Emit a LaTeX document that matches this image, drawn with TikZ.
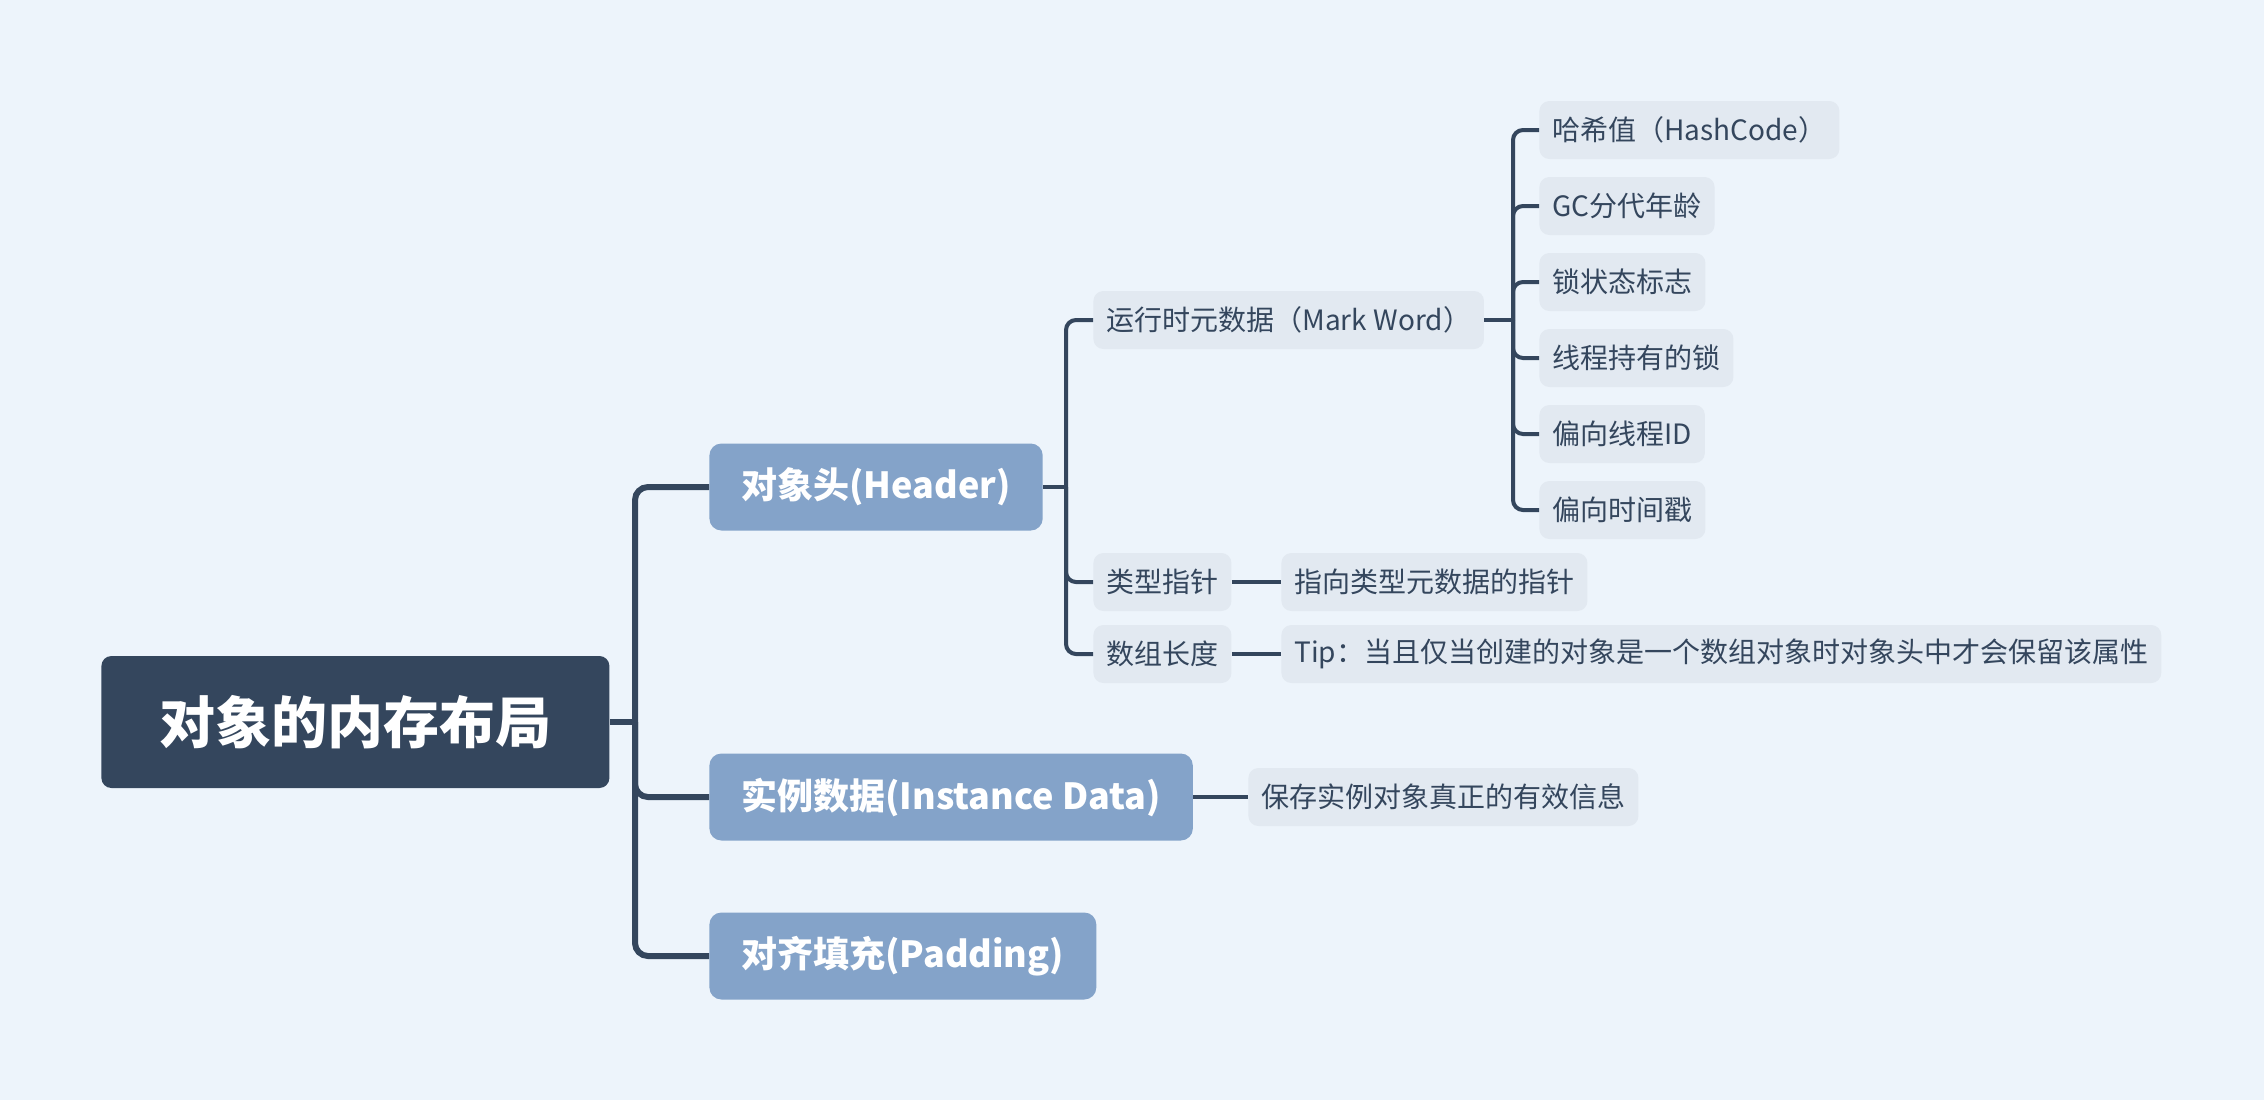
\documentclass[tikz,border=0pt]{standalone}
\usepackage{fontspec}
\setmainfont{Noto Sans CJK SC}
\usetikzlibrary{
  positioning,  % Function "of"
  calc,         % Calculations $...$
}
\definecolor{bgcol}{HTML}{EDF4FB}
\definecolor{rootcol}{HTML}{34465D}
\definecolor{topiccol}{HTML}{84A3C9}
\definecolor{leafcol}{HTML}{E2E9F1}
\def\myrootfont{\fontsize{28}{34}\selectfont\bfseries}
\def\mytopicfont{\fontsize{18}{22}\selectfont\bfseries}
\def\myleaffont{\fontsize{14}{17}\selectfont}
\tikzset{
  x=0.5pt,
  y=-0.5pt,
  my root/.style={
    fill=rootcol,
    text=white,
    font=\myrootfont,
    minimum height=66pt,
    inner xsep=29pt,
    rounded corners=5pt,
    anchor=west
  },
  my topic/.style={
    fill=topiccol,
    text=white,
    font=\mytopicfont,
    minimum height=43.5pt,
    inner xsep=16pt,
    rounded corners=6pt,
    anchor=west
  },
  my leaf/.style={
    fill=leafcol,
    text=rootcol,
    font=\myleaffont,
    minimum height=29pt,
    inner xsep=6.5pt,
    rounded corners=5pt,
    anchor=west
  },
  thick link/.style={
    draw=rootcol,
    line width=3pt,
    rounded corners=6.5pt
  },
  thin link/.style={
    draw=rootcol,
    line width=2pt,
    rounded corners=5pt
  }
}

\begin{document}
\begin{tikzpicture}
\fill[bgcol] (0,0) rectangle (2264,1100);
\useasboundingbox (0,0) rectangle (2264,1100);
% trunks
\coordinate (t1) at (635,0);
\coordinate (t2) at (1066,0);
\coordinate (t3) at (1513,0);
% nodes
\node[my root]  (root)  at (101,722)  {对象的内存布局};
\node[my topic] (hdr)   at (709,487)  {对象头(Header)};
\node[my topic] (inst)  at (709,797)  {实例数据(Instance Data)};
\node[my topic] (pad)   at (709,956)  {对齐填充(Padding)};
\node[my leaf]  (mark)  at (1093,320) {运行时元数据（Mark Word）};
\node[my leaf]  (ptr)   at (1093,582) {类型指针};
\node[my leaf]  (alen)  at (1093,654) {数组长度};
\node[my leaf]  (ptrd)  at (1281,582) {指向类型元数据的指针};
\node[my leaf]  (tip)   at (1281,654) {Tip：当且仅当创建的对象是一个数组对象时对象头中才会保留该属性};
\node[my leaf]  (instd) at (1248,797) {保存实例对象真正的有效信息};
\node[my leaf]  (hash)  at (1539,130) {哈希值（HashCode）};
\node[my leaf]  (gc)    at (1539,206) {GC分代年龄};
\node[my leaf]  (lock)  at (1539,282) {锁状态标志};
\node[my leaf]  (thr)   at (1539,358) {线程持有的锁};
\node[my leaf]  (bid)   at (1539,434) {偏向线程ID};
\node[my leaf]  (bts)   at (1539,510) {偏向时间戳};
% links
\draw[thick link] (root.east) -- (root.east -| t1);
\foreach \n in {hdr,inst,pad}
  \draw[thick link] (root.east -| t1) |- (\n.west);
\draw[thin link] (hdr.east) -- (hdr.east -| t2);
\foreach \n in {mark,ptr,alen}
  \draw[thin link] (hdr.east -| t2) |- (\n.west);
\draw[thin link] (mark.east) -- (mark.east -| t3);
\foreach \n in {hash,gc,lock,thr,bid,bts}
  \draw[thin link] (mark.east -| t3) |- (\n.west);
\draw[thin link] (ptr.east)  -- (ptrd.west);
\draw[thin link] (alen.east) -- (tip.west);
\draw[thin link] (inst.east) -- (instd.west);
\end{tikzpicture}
\end{document}
